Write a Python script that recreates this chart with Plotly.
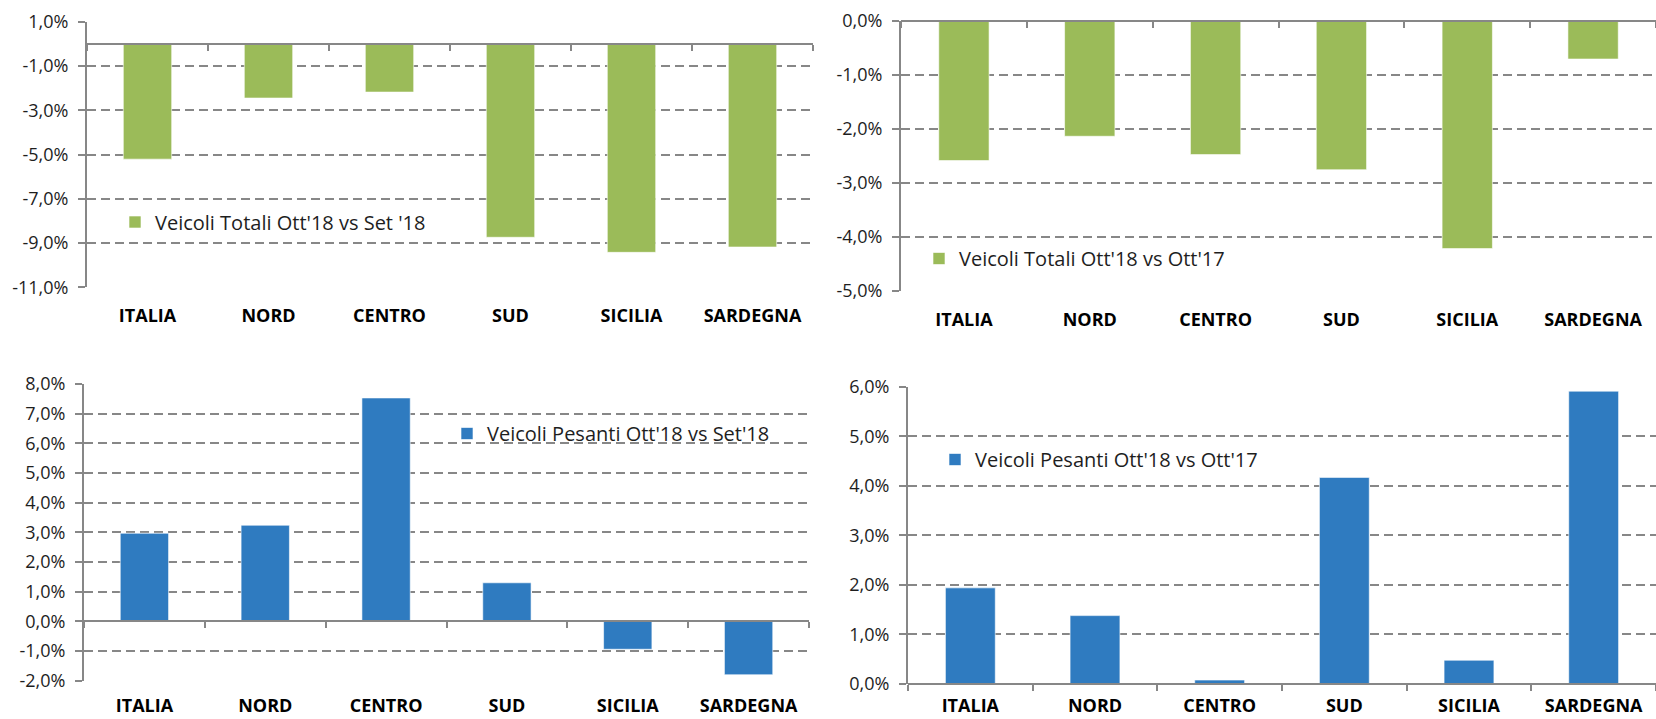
import plotly.graph_objects as go

# ---------------- data ----------------
categories = ["ITALIA", "NORD", "CENTRO", "SUD", "SICILIA", "SARDEGNA"]

totali_ott18_vs_set18 = [-5.21, -2.45, -2.18, -8.74, -9.42, -9.18]
totali_ott18_vs_ott17 = [-2.59, -2.14, -2.48, -2.76, -4.22, -0.71]
pesanti_ott18_vs_set18 = [2.97, 3.24, 7.53, 1.30, -0.94, -1.80]
pesanti_ott18_vs_ott17 = [1.94, 1.38, 0.08, 4.17, 0.48, 5.91]

series_names = [
    "Veicoli Totali Ott'18 vs Set '18",
    "Veicoli Totali Ott'18 vs Ott'17",
    "Veicoli Pesanti Ott'18 vs Set'18",
    "Veicoli Pesanti Ott'18 vs Ott'17",
]
series_values = [totali_ott18_vs_set18, totali_ott18_vs_ott17,
                 pesanti_ott18_vs_set18, pesanti_ott18_vs_ott17]

# y axis ranges / tick steps
y_ranges = [[-11, 1], [-5, 0], [-2, 8], [0, 6]]
y_dticks = [2, 1, 1, 1]

# ---------------- style ----------------
W, H = 1656, 719
GREEN = "#9BBB59"
BLUE = "#2F7BC0"
bar_colors = [GREEN, GREEN, BLUE, BLUE]
GRID = "#878787"
FONT = "Open Sans"
TXT = "#1E1E1E"


def px_x(x0, x1):
    return [x0 / W, min(x1 / W, 1.0)]


def px_y(top, bottom):
    return [1 - bottom / H, 1 - top / H]


def fmt_pct(v):
    s = f"{v:.1f}".replace(".", ",")
    return s + "%"


x_domains = [px_x(87, 813), px_x(901, 1660), px_x(84, 809), px_x(908, 1660)]
y_domains = [px_y(21.7, 287.3), px_y(20.7, 290.7), px_y(384, 680.7), px_y(386.7, 684)]
label_standoff = [16, 16, 12, 9]

# legend placement (paper px): left x, middle y
legend_pos = [(115, 222), (919, 258.5), (447, 433.5), (935, 459.5)]

fig = go.Figure()
layout = dict(
    width=W, height=H,
    margin=dict(l=0, r=0, t=0, b=0, autoexpand=False),
    paper_bgcolor="white", plot_bgcolor="white",
    font=dict(family=FONT, size=18, color=TXT),
    bargap=0.6,
    showlegend=True,
)

n = len(categories)
boundaries = [i - 0.5 for i in range(n + 1)]
positions = list(range(n))

for i in range(4):
    k = i + 1
    xs = "" if k == 1 else str(k)
    leg = "legend" if k == 1 else f"legend{k}"
    fig.add_trace(go.Bar(
        x=categories, y=series_values[i], name=series_names[i],
        marker=dict(color=bar_colors[i], line=dict(color="rgba(255,255,255,0.6)", width=1)),
        xaxis=f"x{xs}", yaxis=f"y{xs}", legend=leg, width=0.4,
    ))
    # invisible helper so the category axis line (at 0) gets drawn
    fig.add_trace(go.Scatter(
        x=positions, y=series_values[i], mode="markers",
        marker=dict(opacity=0, size=1), showlegend=False, hoverinfo="skip",
        xaxis=f"x{k + 4}", yaxis=f"y{xs}",
    ))
    ymin, ymax = y_ranges[i]
    nt = int(round((ymax - ymin) / y_dticks[i]))
    tvals = [ymax - j * y_dticks[i] for j in range(nt + 1)]
    layout[f"xaxis{xs}"] = dict(
        domain=x_domains[i], anchor=f"y{xs}", type="category",
        categoryorder="array", categoryarray=categories,
        range=[-0.5, n - 0.5], showline=False, ticks="", showgrid=False,
        zeroline=False, tickfont=dict(family=FONT, size=18, color="black", weight="bold"),
        ticklabelstandoff=label_standoff[i], automargin=False,
    )
    layout[f"yaxis{xs}"] = dict(
        domain=y_domains[i], anchor=f"x{xs}", range=[ymin, ymax],
        tickmode="array", tickvals=tvals, ticktext=[fmt_pct(v) for v in tvals],
        showgrid=True, gridcolor=GRID, gridwidth=2, griddash="9px,5px",
        showline=True, linecolor=GRID, linewidth=2,
        ticks="outside", ticklen=7, tickwidth=2, tickcolor=GRID,
        zeroline=False, tickfont=dict(family=FONT, size=18, color=TXT),
        ticklabelstandoff=6, automargin=False,
    )
    # category axis line with boundary ticks at the zero level
    pos = y_domains[i][0] + (0 - ymin) / (ymax - ymin) * (y_domains[i][1] - y_domains[i][0])
    layout[f"xaxis{k + 4}"] = dict(
        overlaying=f"x{xs}", anchor="free", position=pos, side="bottom",
        type="linear", range=[-0.5, n - 0.5], tickmode="array", tickvals=boundaries,
        ticks="outside", ticklen=6, tickwidth=2, tickcolor=GRID,
        showline=True, linecolor=GRID, linewidth=2, showticklabels=False,
        showgrid=False, zeroline=False, automargin=False,
    )
    lx, ly = legend_pos[i]
    layout[leg] = dict(
        x=lx / W, y=1 - ly / H, xanchor="left", yanchor="middle",
        bgcolor="rgba(0,0,0,0)", font=dict(family=FONT, size=20, color=TXT),
    )

fig.update_layout(**layout)
fig.write_html(
    "out.html",
    config={"displayModeBar": False},
    post_script="document.body.style.margin='0';document.body.style.padding='0';"
                "document.body.style.overflow='hidden';",
)
